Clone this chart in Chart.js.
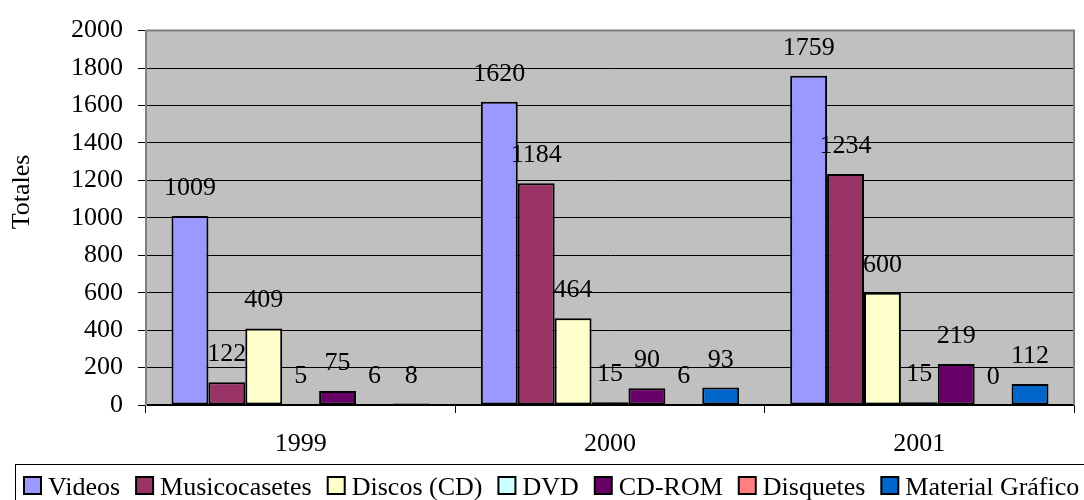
<!DOCTYPE html>
<html>
<head>
<meta charset="utf-8">
<script src="https://cdn.jsdelivr.net/npm/chart.js@4.4.0/dist/chart.umd.min.js"></script>
<style>
  html, body { margin: 0; padding: 0; background: #fff; }
  #wrap { width: 1084px; height: 500px; position: relative; }
</style>
</head>
<body>
<div id="wrap"><canvas id="c" width="1084" height="500"></canvas></div>
<script>
const categories = ['1999', '2000', '2001'];
const seriesNames = ['Videos', 'Musicocasetes', 'Discos (CD)', 'DVD', 'CD-ROM', 'Disquetes', 'Material Gráfico'];
const videos = [1009, 1620, 1759];
const musicocasetes = [122, 1184, 1234];
const discos = [409, 464, 600];
const dvd = [5, 15, 15];
const cdrom = [75, 90, 219];
const disquetes = [6, 6, 0];
const materialGrafico = [8, 93, 112];
const yTicks = [0, 200, 400, 600, 800, 1000, 1200, 1400, 1600, 1800, 2000];
const yTitle = 'Totales';
const colors = ['#9999FF', '#993366', '#FFFFCC', '#CCFFFF', '#660066', '#FF8080', '#0066CC'];

const seriesValues = [videos, musicocasetes, discos, dvd, cdrom, disquetes, materialGrafico];

const FONT = "'Liberation Serif', 'Times New Roman', serif";
Chart.defaults.font.family = FONT;
Chart.defaults.font.size = 26;
Chart.defaults.color = '#000';

const bgPlugin = {
  id: 'bg',
  beforeDraw(chart) {
    const {ctx, chartArea: a} = chart;
    ctx.save();
    ctx.fillStyle = '#C0C0C0';
    ctx.fillRect(a.left, a.top, a.right - a.left, a.bottom - a.top);
    ctx.restore();
  },
  beforeDatasetsDraw(chart) {
    const {ctx, chartArea: a} = chart;
    ctx.save();
    ctx.strokeStyle = '#808080';
    ctx.lineWidth = 2;
    ctx.beginPath();
    ctx.moveTo(a.left, a.top);
    ctx.lineTo(a.right, a.top);
    ctx.lineTo(a.right, a.bottom);
    ctx.stroke();
    ctx.restore();
  }
};

const labelPlugin = {
  id: 'vlabels',
  afterDatasetsDraw(chart) {
    const {ctx} = chart;
    ctx.save();
    ctx.font = '26px ' + FONT;
    ctx.fillStyle = '#000';
    ctx.textAlign = 'center';
    ctx.textBaseline = 'alphabetic';
    chart.data.datasets.forEach((ds, i) => {
      const meta = chart.getDatasetMeta(i);
      meta.data.forEach((el, j) => {
        ctx.fillText(String(ds.data[j]), el.x, el.y - 21);
      });
    });
    ctx.restore();
  }
};

const titlePlugin = {
  id: 'ytitle',
  afterDraw(chart) {
    const {ctx} = chart;
    ctx.save();
    ctx.font = '26px ' + FONT;
    ctx.fillStyle = '#000';
    ctx.textAlign = 'center';
    ctx.textBaseline = 'middle';
    ctx.translate(22, 192);
    ctx.rotate(-Math.PI / 2);
    ctx.fillText(yTitle, 0, 0);
    ctx.restore();
  }
};

const legendPlugin = {
  id: 'customLegend',
  afterDraw(chart) {
    const {ctx} = chart;
    ctx.save();
    ctx.strokeStyle = '#000';
    ctx.lineWidth = 1;
    ctx.strokeRect(15.5, 464.5, 1100, 60);
    ctx.font = '26px ' + FONT;
    ctx.textBaseline = 'alphabetic';
    ctx.textAlign = 'left';
    let x = 24;
    const box = 17, boxTop = 477, textGap = 7, itemGap = 16, baseline = 495;
    chart.data.datasets.forEach((ds) => {
      ctx.fillStyle = ds.backgroundColor;
      ctx.fillRect(x, boxTop, box, box);
      ctx.lineWidth = 2;
      ctx.strokeStyle = '#000';
      ctx.strokeRect(x, boxTop, box, box);
      ctx.fillStyle = '#000';
      const tx = x + box + textGap;
      ctx.fillText(ds.label, tx, baseline);
      x = tx + ctx.measureText(ds.label).width + itemGap;
    });
    ctx.restore();
  }
};

new Chart(document.getElementById('c'), {
  type: 'bar',
  data: {
    labels: categories,
    datasets: seriesNames.map((name, i) => ({
      label: name,
      data: seriesValues[i],
      backgroundColor: colors[i],
      borderColor: '#000',
      borderWidth: 2,
      borderSkipped: false,
      categoryPercentage: 0.835,
      barPercentage: 1.0
    }))
  },
  options: {
    responsive: false,
    animation: false,
    devicePixelRatio: 1,
    layout: { padding: { left: 0, top: 25, right: 10, bottom: 40 } },
    plugins: { legend: { display: false }, tooltip: { enabled: false } },
    scales: {
      x: {
        grid: { display: true, drawOnChartArea: false, drawTicks: true, tickLength: 8, offset: true, color: '#000' },
        border: { display: true, color: '#000', width: 1.5 },
        ticks: { padding: 16, font: { size: 26 }, color: '#000' },
        afterFit(scale) { scale.height = 55; }
      },
      y: {
        min: 0, max: 2000,
        afterBuildTicks(scale) { scale.ticks = yTicks.map(v => ({ value: v })); },
        grid: { color: '#000', lineWidth: 1, tickLength: 8, tickColor: '#000' },
        border: { display: true, color: '#808080', width: 2 },
        ticks: { padding: 15, font: { size: 26 }, color: '#000', callback: (v) => String(v) },
        title: { display: false },
        afterFit(scale) { scale.width = 146; }
      }
    }
  },
  plugins: [bgPlugin, labelPlugin, titlePlugin, legendPlugin]
});
</script>
</body>
</html>
